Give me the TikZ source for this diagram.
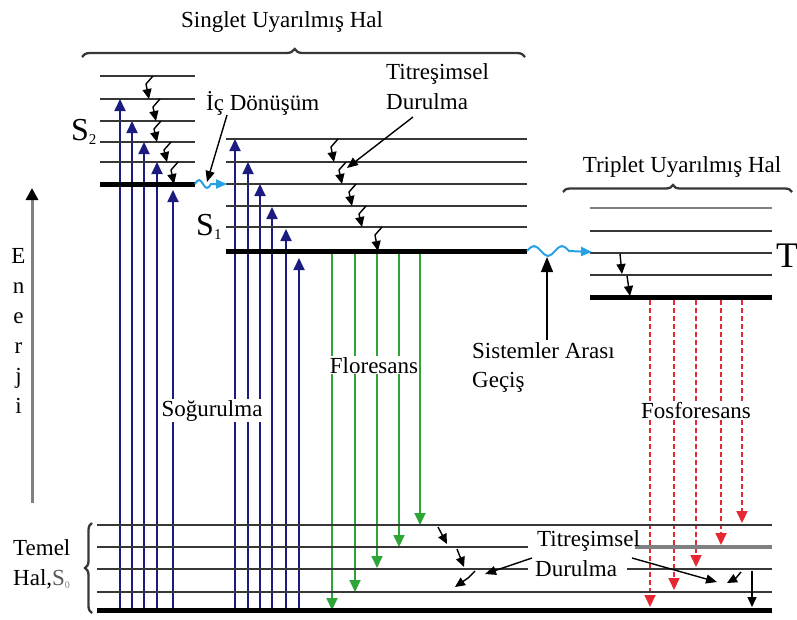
\documentclass[tikz,border=0pt]{standalone}
\usepackage{fontspec}
\setmainfont{Liberation Serif}
\usetikzlibrary{arrows.meta,decorations.pathreplacing}

\definecolor{absorbcol}{RGB}{28,28,128}
\definecolor{fluocol}{RGB}{45,165,55}
\definecolor{phoscol}{RGB}{230,40,50}
\definecolor{wavecol}{RGB}{40,160,230}
\definecolor{levelcol}{RGB}{55,55,55}

\tikzset{
  lbl/.style={font=\fontsize{23}{27}\selectfont, inner sep=0pt},
  biglbl/.style={font=\fontsize{32}{34}\selectfont, inner sep=0pt},
  lvl/.style={line width=2.3pt, draw=levelcol},
  gnd/.style={line width=5pt, draw=black},
  absorb/.style={line width=1.8pt, draw=absorbcol, -{Triangle[length=12pt,width=11pt]}},
  fluo/.style={line width=1.8pt, draw=fluocol, -{Triangle[length=12pt,width=11pt]}},
  phos/.style={line width=1.8pt, draw=phoscol, dash pattern=on 5pt off 3pt, -{Triangle[length=12pt,width=11pt]}},
  relax/.style={line width=1.4pt, draw=black, line join=round, -{Triangle[length=10pt,width=9pt]}},
  pointer/.style={line width=1.4pt, draw=black, -{Triangle[length=11pt,width=9pt]}},
  wavy/.style={line width=2pt, draw=wavecol, -{Triangle[length=11pt,width=9pt]}},
  bracestyle/.style={line width=2.3pt, draw=levelcol, decorate},
}

\begin{document}
\begin{tikzpicture}[x=1pt,y=-1pt]
\useasboundingbox (0,0) rectangle (797,619);

% absorption (ground state up to S2 and S1)
\foreach \x/\t in {120/99,132/121,144/142,157/162,173/190}
  \draw[absorb] (\x,610) -- (\x,\t);
\foreach \x/\t in {235/139,248/162,260/184,272/207,286/229,299/258}
  \draw[absorb] (\x,610) -- (\x,\t);

% fluorescence (S1 down to ground state)
\foreach \x/\t in {332/610,355/592,377/568,399/547,420/525}
  \draw[fluo] (\x,253) -- (\x,\t);

% phosphorescence (T1 down to ground state)
\foreach \x/\t in {650/607,674/590,696/567,721/545,742/523}
  \draw[phos] (\x,300) -- (\x,\t);

% S2 vibrational levels
\foreach \y in {76,99,121,142,162}
  \draw[lvl] (100,\y) -- (195,\y);
\draw[gnd] (100,184) -- (195,184);

% S1 vibrational levels
\foreach \y in {139,162,184,206,227}
  \draw[lvl] (226,\y) -- (527,\y);
\draw[gnd] (226,251) -- (527,251);

% T1 vibrational levels
\draw[lvl, draw=gray, line width=2.8pt] (590,208) -- (772,208);
\foreach \y in {231,253,275}
  \draw[lvl] (590,\y) -- (772,\y);
\draw[gnd] (590,297) -- (772,297);

% ground state levels
\draw[lvl] (97,525) -- (772,525);
\draw[lvl] (97,547) -- (528,547);
\draw[lvl, draw=gray, line width=4pt] (635,547) -- (772,547);
\draw[lvl] (97,569) -- (528,569);
\draw[lvl, line width=2.8pt] (627,569) -- (772,569);
\draw[lvl] (97,592) -- (772,592);
\draw[gnd] (97,610) -- (772,610);

% vibrational relaxation within S2
\foreach \x/\a/\b in {149/76/99,156/99/121,157/121/142,167/142/162,174/162/184}
  \draw[relax] (\x+4,\a) -- (\x-3,\a+8) -- (\x,\b);

% vibrational relaxation within S1
\foreach \x/\a/\b in {334/139/162,342/162/184,352/184/206,362/206/227,378/227/251}
  \draw[relax] (\x+4,\a) -- (\x-3,\a+8) -- (\x,\b);

% vibrational relaxation within T1
\draw[relax] (620,254) -- (622,274);
\draw[relax] (627,276) -- (630,296);

% vibrational relaxation in the ground state
\draw[relax] (438,527) -- (447,544);
\draw[relax] (457,549) -- (464,567);
\draw[relax] (475,571) -- (468,578) -- (455,587);
\draw[relax] (741,572) -- (736,578) -- (727,583);
\draw[relax] (752,571) -- (752,607);

% internal conversion and intersystem crossing
\draw[wavy] (195,184) sin (199,180) cos (203,184) sin (207,188) cos (211,184) -- (227,184);
\draw[wavy] (527,251) sin (534,246) cos (541,251) sin (548,256) cos (555,251)
  sin (562,246) cos (569,251) -- (592,252);

% energy axis
\draw[line width=3pt, draw=gray, -{Triangle[length=12pt,width=12pt,color=black]}] (32,503) -- (32,188);
\foreach \c/\y/\n in {E/263/e1,n/293/e2,e/323/e3,r/353/e4,j/383/e5,i/413/e6}
  \node[lbl, anchor=base] (\n) at (18.5,\y) {\c};

% braces
\draw[bracestyle, decoration={brace, amplitude=8pt, aspect=0.48}] (82,57) -- (525,57);
\draw[bracestyle, decoration={brace, amplitude=7pt, aspect=0.48}] (563,192) -- (792,192);
\draw[bracestyle, decoration={brace, amplitude=7pt}] (92,613) -- (92,523);

% state labels
\node[lbl, anchor=base] (singlet) at (282,27) {Singlet Uyarılmış Hal};
\node[lbl, anchor=base] (triplet) at (682,172) {Triplet Uyarılmış Hal};
\node[biglbl, anchor=base west] (s2) at (71,140) {S\raisebox{-4pt}{\fontsize{15}{15}\selectfont 2}};
\node[biglbl, anchor=base west] (s1) at (196,235) {S\raisebox{-4pt}{\fontsize{15}{15}\selectfont 1}};
\node[biglbl, anchor=base west, font=\fontsize{36}{38}\selectfont] (t1) at (776,267) {T};
\node[lbl, anchor=base west] (temel) at (13,555) {Temel};
\node[lbl, anchor=base west] (hal) at (13,585) {Hal,{\color{gray!70!black}S}\raisebox{-3pt}{\fontsize{10}{10}\selectfont\color{gray}0}};

% process labels
\node[lbl, anchor=base west] (icd) at (206,110) {İç Dönüşüm};
\node[lbl, anchor=base west] (tit1) at (386,79) {Titreşimsel};
\node[lbl, anchor=base west] (dur1) at (386,109) {Durulma};
\node[lbl, anchor=base, fill=white, inner sep=1pt] (flo) at (374,373) {Floresans};
\node[lbl, anchor=base, fill=white, inner sep=1pt] (sog) at (212,416) {Soğurulma};
\node[lbl, anchor=base, fill=white, inner sep=1pt] (fos) at (696,418) {Fosforesans};
\node[lbl, anchor=base west] (sis1) at (472,358) {Sistemler Arası};
\node[lbl, anchor=base west] (sis2) at (472,387) {Geçiş};
\node[lbl, anchor=base west] (tit2) at (537,546) {Titreşimsel};
\node[lbl, anchor=base west] (dur2) at (535,576) {Durulma};

% pointers from labels
\draw[pointer] (227,115) -- (207,182);
\draw[pointer] (413,117) -- (347,168);
\draw[pointer, -{Triangle[length=15pt,width=12pt]}] (547,340) -- (547,257);
\draw[pointer] (532,558) -- (485,574);
\draw[pointer] (632,558) -- (717,582);
\end{tikzpicture}
\end{document}
